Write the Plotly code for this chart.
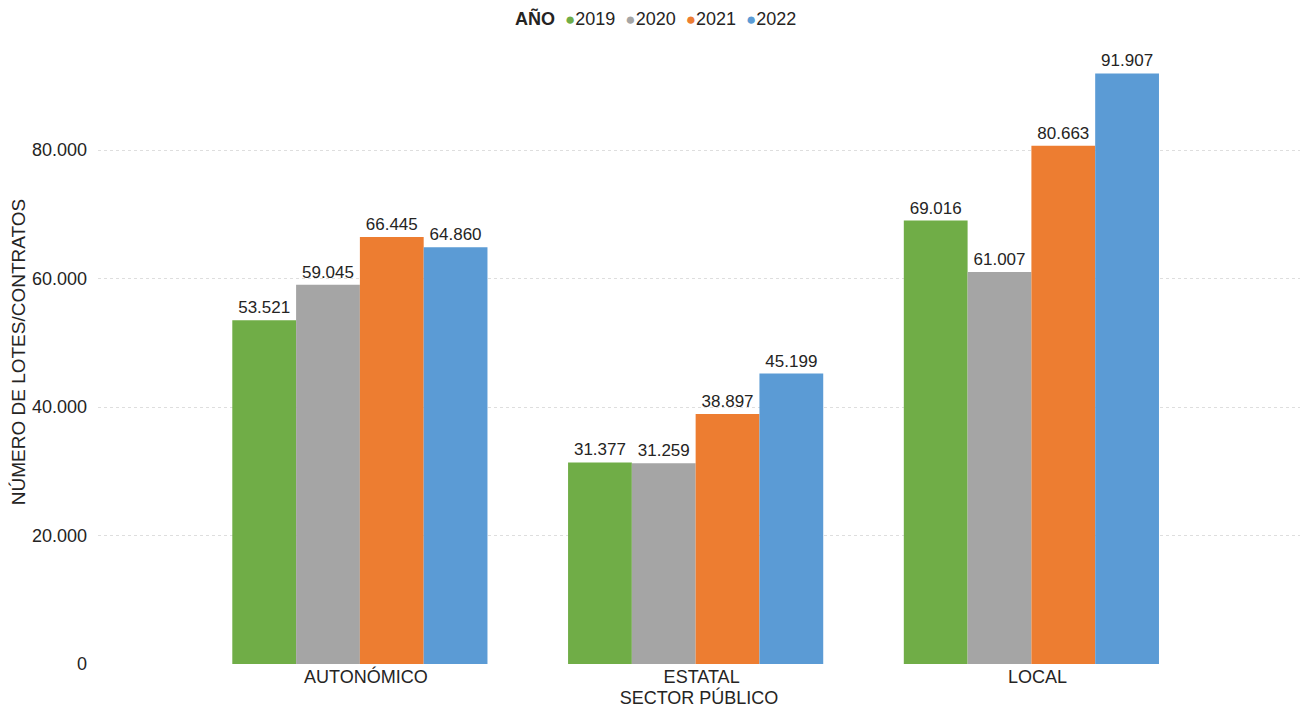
import plotly.graph_objects as go

# categories and values
sectores = ["AUTONÓMICO", "ESTATAL", "LOCAL"]
anios = ["2019", "2020", "2021", "2022"]
v2019 = [53521, 31377, 69016]
v2020 = [59045, 31259, 61007]
v2021 = [66445, 38897, 80663]
v2022 = [64860, 45199, 91907]
colores = ["#70AD47", "#A5A5A5", "#ED7D31", "#5B9BD5"]

series = [v2019, v2020, v2021, v2022]
font_txt = "Liberation Sans, Arial, sans-serif"

fig = go.Figure()
for anio, vals, col in zip(anios, series, colores):
    fig.add_trace(go.Bar(
        x=sectores, y=vals, name=anio,
        marker=dict(color=col, line=dict(width=0)),
        texttemplate="%{y:,d}", textposition="outside",
        textfont=dict(size=17, color="#252423"),
        cliponaxis=False,
    ))

# legend built as one line of text, dots coloured like the series
items = ["<b>AÑO</b>"]
for anio, col in zip(anios, colores):
    items.append(f"<span style='color:{col};font-size:17px'>●</span>{anio}")
fig.add_annotation(
    text="  ".join(items), xref="paper", yref="paper",
    x=0.464, y=1.034, xanchor="center", yanchor="middle",
    showarrow=False, font=dict(size=18, color="#252423"),
)

fig.update_layout(
    width=1300, height=701,
    margin=dict(l=90, r=8, t=32, b=45),
    plot_bgcolor="white", paper_bgcolor="white",
    font=dict(family=font_txt, size=18, color="#252423"),
    separators=",.",
    barmode="group", bargap=0.24, bargroupgap=0,
    showlegend=False,
)
fig.update_xaxes(
    title=dict(text="SECTOR PÚBLICO", font=dict(size=18), standoff=0),
    range=[-0.78, 2.8], showgrid=False, showline=False, ticks="",
    tickfont=dict(size=18), ticklabelshift=6, automargin=False,
)
fig.update_yaxes(
    title=dict(text="NÚMERO DE LOTES/CONTRATOS", font=dict(size=19), standoff=8),
    range=[0, 97120], tickvals=[0, 20000, 40000, 60000, 80000],
    tickformat=",d", showgrid=True, gridcolor="#dedede", griddash="dot",
    zeroline=False, showline=False, ticks="", ticklabelstandoff=10,
    tickfont=dict(size=18), automargin=False,
)

fig.write_html("out.html")
